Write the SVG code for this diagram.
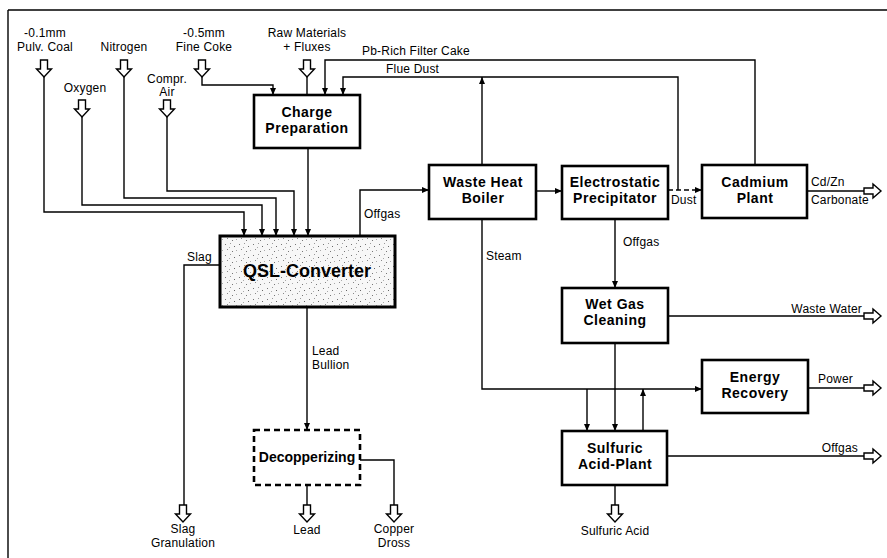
<svg xmlns="http://www.w3.org/2000/svg" width="887" height="558" viewBox="0 0 887 558">
<style>
.box{fill:#fff;stroke:#000;stroke-width:2.6}
.bt{font-family:"Liberation Sans",Arial,sans-serif;font-weight:bold;font-size:14px;letter-spacing:0.5px;text-anchor:middle;fill:#000}
.lb{font-family:"Liberation Sans",Arial,sans-serif;font-size:12px;letter-spacing:0.2px;fill:#000}
.c{text-anchor:middle}
.e{text-anchor:end}
.ln{fill:none;stroke:#000;stroke-width:1.4}
.ar{marker-end:url(#ah)}
.hol{fill:#fff;stroke:#000;stroke-width:1.4;stroke-linejoin:miter}
</style>
<defs>
<marker id="ah" markerWidth="8" markerHeight="7" refX="7" refY="3" orient="auto" markerUnits="userSpaceOnUse">
<path d="M0,0 L7,3 L0,6 z" fill="#000"/>
</marker>
<path id="hd" class="hol" d="M-3.5,0 H3.5 V9 H7.5 L0,17 L-7.5,9 H-3.5 Z"/>
<path id="hr" class="hol" d="M0,-3 H9 V-7 L17,0 L9,7 V3 H0 Z"/>
<pattern id="spk" width="14" height="11" patternUnits="userSpaceOnUse">
<rect width="14" height="11" fill="#f7f7f7"/>
<rect x="1" y="2" width="1" height="1" fill="#777"/>
<rect x="6" y="1" width="1" height="1" fill="#999"/>
<rect x="10" y="4" width="1" height="1" fill="#666"/>
<rect x="3" y="7" width="1" height="1" fill="#888"/>
<rect x="8" y="9" width="1" height="1" fill="#777"/>
<rect x="12" y="8" width="1" height="1" fill="#aaa"/>
<rect x="5" y="5" width="1" height="1" fill="#aaa"/>
</pattern>
</defs>

<g id="frame">
<line x1="8" y1="10" x2="887" y2="10" stroke="#000" stroke-width="1.6"/>
<line x1="8" y1="10" x2="8" y2="558" stroke="#000" stroke-width="1.4"/>
</g>

<g id="connectors">
<path class="ln ar" d="M44,77 V212 H244 V236"/>
<path class="ln ar" d="M82,117 V205 H262 V236"/>
<path class="ln ar" d="M124,77 V198 H276 V236"/>
<path class="ln ar" d="M167,117 V191 H294 V236"/>
<path class="ln ar" d="M308,148 V236"/>
<path class="ln ar" d="M202,77 V85 H273 V95"/>
<path class="ln" d="M307,77 V95"/>
<path class="ln ar" d="M755,165 V60 H325 V95"/>
<path class="ln ar" d="M678,190 V77 H343 V95"/>
<path class="ln ar" d="M482,165 V77"/>
<path class="ln ar" d="M360,236 V190 H429"/>
<path class="ln ar" d="M536,191 H562"/>
<path class="ln ar" d="M668,190 H702" stroke-dasharray="5,3"/>
<path class="ln" d="M807,191 H864"/>
<path class="ln ar" d="M615,219 V288"/>
<path class="ln" d="M668,316 H864"/>
<path class="ln ar" d="M482,219 V389 H702"/>
<path class="ln" d="M808,388 H864"/>
<path class="ln ar" d="M587,389 V431"/>
<path class="ln ar" d="M615,343 V431"/>
<path class="ln ar" d="M643,431 V389"/>
<path class="ln" d="M667,456 H864"/>
<path class="ln" d="M615,485 V505"/>
<path class="ln" d="M220,265 H184 V505"/>
<path class="ln ar" d="M307,307 V430"/>
<path class="ln" d="M307,485 V505"/>
<path class="ln" d="M360,460 H394 V505"/>
</g>

<g id="input-coal">
<text class="lb c" x="45" y="37">-0.1mm</text>
<text class="lb c" x="45" y="51">Pulv. Coal</text>
<use href="#hd" x="44" y="60"/>
</g>
<g id="input-oxygen">
<text class="lb c" x="85" y="92">Oxygen</text>
<use href="#hd" x="82" y="100"/>
</g>
<g id="input-nitrogen">
<text class="lb c" x="124" y="51">Nitrogen</text>
<use href="#hd" x="124" y="60"/>
</g>
<g id="input-air">
<text class="lb c" x="167" y="83">Compr.</text>
<text class="lb c" x="167" y="96">Air</text>
<use href="#hd" x="167" y="100"/>
</g>
<g id="input-coke">
<text class="lb c" x="204" y="37">-0.5mm</text>
<text class="lb c" x="204" y="51">Fine Coke</text>
<use href="#hd" x="202" y="60"/>
</g>
<g id="input-raw">
<text class="lb c" x="307" y="37">Raw Materials</text>
<text class="lb c" x="307" y="51">+ Fluxes</text>
<use href="#hd" x="307" y="60"/>
</g>

<g id="label-pbrich"><text class="lb" x="362" y="55">Pb-Rich Filter Cake</text></g>
<g id="label-fluedust"><text class="lb" x="386" y="73">Flue Dust</text></g>

<g id="charge-preparation">
<rect class="box" x="254" y="95" width="106" height="53"/>
<text class="bt" x="307" y="117">Charge</text>
<text class="bt" x="307" y="133">Preparation</text>
</g>

<g id="qsl-converter">
<rect x="220" y="236" width="175" height="71" fill="url(#spk)" stroke="#000" stroke-width="3"/>
<text class="bt" x="307" y="277" style="font-size:18px;letter-spacing:0">QSL-Converter</text>
</g>
<g id="label-offgas1"><text class="lb" x="364" y="218">Offgas</text></g>
<g id="label-slag"><text class="lb" x="187" y="261">Slag</text></g>

<g id="waste-heat-boiler">
<rect class="box" x="429" y="165" width="107" height="54"/>
<text class="bt" x="483" y="187">Waste Heat</text>
<text class="bt" x="483" y="203">Boiler</text>
</g>
<g id="label-steam"><text class="lb" x="486" y="260">Steam</text></g>

<g id="electrostatic-precipitator">
<rect class="box" x="562" y="166" width="106" height="53"/>
<text class="bt" x="615" y="187">Electrostatic</text>
<text class="bt" x="615" y="203">Precipitator</text>
</g>
<g id="label-dust"><text class="lb" x="671" y="204">Dust</text></g>

<g id="cadmium-plant">
<rect class="box" x="702" y="165" width="105" height="53"/>
<text class="bt" x="755" y="187">Cadmium</text>
<text class="bt" x="755" y="203">Plant</text>
</g>
<g id="out-cdzn">
<text class="lb" x="811" y="186">Cd/Zn</text>
<text class="lb" x="811" y="204">Carbonate</text>
<use href="#hr" x="864" y="191"/>
</g>

<g id="label-offgas2"><text class="lb" x="623" y="246">Offgas</text></g>

<g id="wet-gas-cleaning">
<rect class="box" x="562" y="288" width="106" height="55"/>
<text class="bt" x="615" y="309">Wet Gas</text>
<text class="bt" x="615" y="325">Cleaning</text>
</g>
<g id="out-wastewater">
<text class="lb e" x="862" y="313">Waste Water</text>
<use href="#hr" x="864" y="316"/>
</g>

<g id="energy-recovery">
<rect class="box" x="702" y="360" width="106" height="53"/>
<text class="bt" x="755" y="382">Energy</text>
<text class="bt" x="755" y="398">Recovery</text>
</g>
<g id="out-power">
<text class="lb" x="818" y="383">Power</text>
<use href="#hr" x="864" y="388"/>
</g>

<g id="sulfuric-acid-plant">
<rect class="box" x="562" y="431" width="105" height="54"/>
<text class="bt" x="615" y="453">Sulfuric</text>
<text class="bt" x="615" y="469">Acid-Plant</text>
</g>
<g id="out-offgas">
<text class="lb e" x="858" y="452">Offgas</text>
<use href="#hr" x="864" y="456"/>
</g>
<g id="out-sulfuricacid">
<use href="#hd" x="615" y="505"/>
<text class="lb c" x="615" y="535">Sulfuric Acid</text>
</g>

<g id="label-leadbullion">
<text class="lb" x="312" y="355">Lead</text>
<text class="lb" x="312" y="369">Bullion</text>
</g>

<g id="decopperizing">
<rect x="254" y="430" width="106" height="55" fill="#fff" stroke="#000" stroke-width="2.6" stroke-dasharray="6,4"/>
<text class="bt" x="307" y="462" style="font-size:14px;letter-spacing:0">Decopperizing</text>
</g>

<g id="out-slag">
<use href="#hd" x="183" y="505"/>
<text class="lb c" x="183" y="533">Slag</text>
<text class="lb c" x="183" y="547">Granulation</text>
</g>
<g id="out-lead">
<use href="#hd" x="307" y="505"/>
<text class="lb c" x="307" y="534">Lead</text>
</g>
<g id="out-copper">
<use href="#hd" x="394" y="505"/>
<text class="lb c" x="394" y="533">Copper</text>
<text class="lb c" x="394" y="547">Dross</text>
</g>
</svg>
